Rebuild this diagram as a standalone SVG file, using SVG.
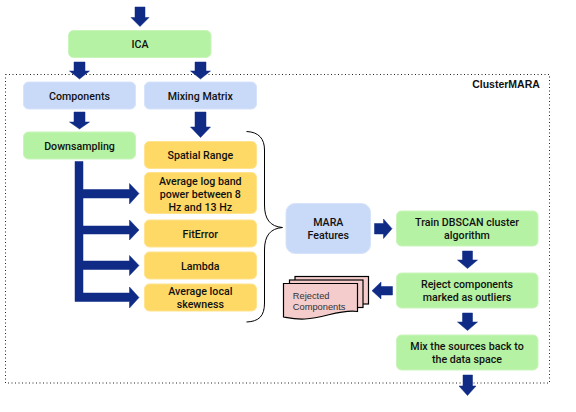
<svg xmlns="http://www.w3.org/2000/svg" width="576" height="412" viewBox="0 0 576 412">
<style>
.n{stroke-width:1;rx:5px;ry:5px}
.g{fill:#b6f2a3;stroke:#c9f5bb}
.b{fill:#c9daf8;stroke:#d6e3fa}
.y{fill:#ffd966;stroke:#ffe38e}
text{font-family:Roboto,"Liberation Sans",sans-serif;font-size:10.67px;font-weight:500;fill:#111;text-anchor:middle}
.a{fill:#0f2b85;stroke:#0f2b85;stroke-width:.5}
.d{fill:#f4cccc;stroke:#000;stroke-width:1.2}
.r{text-anchor:start;font-family:'Liberation Sans',sans-serif;font-weight:400;font-size:9.3px;fill:#333}
</style>
<rect width="576" height="412" fill="#fff"/>
<rect id="frame" x="5.5" y="74.5" width="544" height="308.5" fill="none" stroke="#222" stroke-width="1" stroke-dasharray="1 2.5"/>
<text x="506" y="87.5" style="font-family:'Liberation Sans',sans-serif;font-weight:700;font-size:10.5px">ClusterMARA</text>
<g id="connectors">
<polygon class="a" points="135,7 145,7 145,17.500 149,17.500 140,26.500 131,17.500 135,17.500"/>
<polygon class="a" points="74,62 85,62 85,71 89.500,71 79.500,79 69.500,71 74,71"/>
<polygon class="a" points="195,62 206,62 206,71 210.500,71 200.500,79 190.500,71 195,71"/>
<polygon class="a" points="74,112 85,112 85,122 89.500,122 79.500,129 69.500,122 74,122"/>
<polygon class="a" points="195,112 206,112 206,127 210.500,127 200.500,137.500 190.500,127 195,127"/>
<polygon class="a" points="75,161.500 83,161.500 83,189.500 129.500,189.500 129.500,183.500 139,193.500 129.500,204 129.500,198 83,198 83,226 129.500,226 129.500,220 139,230 129.500,240 129.500,234 83,234 83,261 129.500,261 129.500,255.500 139,265.500 129.500,275.500 129.500,269.500 83,269.500 83,293 129.500,293 129.500,287 139,297.500 129.500,308 129.500,301.500 75,301.500"/>
<polygon class="a" points="374.500,223.500 383.500,223.500 383.500,219 392,228.700 383.500,238.500 383.500,234 374.500,234"/>
<polygon class="a" points="462.500,251 472.500,251 472.500,260 477.500,260 467.500,268.500 457.500,260 462.500,260"/>
<polygon class="a" points="392.500,286.500 381,286.500 381,282 372,290.700 381,299 381,295 392.500,295"/>
<polygon class="a" points="462.500,313 472.500,313 472.500,322 477.500,322 467.500,330.500 457.500,322 462.500,322"/>
<polygon class="a" points="463,375 472.500,375 472.500,386 476,386 467.500,395.500 459,386 463,386"/>
<path id="brace" d="M246.500 131.500C259 132 264.500 139 264.500 150V205C264.500 219 270 226.500 282.500 227.500C270 228.500 264.500 236 264.500 250V303C264.500 316 259 321.500 246.500 322" fill="none" stroke="#000" stroke-width="1"/>
</g>
<g id="ica"><rect class="n g" x="68.500" y="30.500" width="142.500" height="27"/><text x="140" y="48">ICA</text></g>
<g id="components"><rect class="n b" x="23.500" y="82" width="112" height="27"/><text x="79.500" y="99.500">Components</text></g>
<g id="mixing-matrix"><rect class="n b" x="144.500" y="82" width="112" height="27"/><text x="200.300" y="99.500">Mixing Matrix</text></g>
<g id="downsampling"><rect class="n g" x="23.500" y="132" width="112" height="27"/><text x="79.500" y="149.500">Downsampling</text></g>
<g id="spatial-range"><rect class="n y" x="144.500" y="141.500" width="112" height="27"/><text x="200.300" y="159">Spatial Range</text></g>
<g id="avg-log"><rect class="n y" x="144.500" y="172.500" width="112" height="41"/><text x="200.300" y="184.500">Average log band</text><text x="200.300" y="197.500">power between 8</text><text x="200.300" y="210.500">Hz and 13 Hz</text></g>
<g id="fit-error"><rect class="n y" x="144.500" y="220" width="112" height="27"/><text x="200.300" y="237.500">FitError</text></g>
<g id="lambda"><rect class="n y" x="144.500" y="252" width="112" height="27"/><text x="200.300" y="269.500">Lambda</text></g>
<g id="avg-skew"><rect class="n y" x="144.500" y="284" width="112" height="27"/><text x="200.300" y="295">Average local</text><text x="200.300" y="308">skewness</text></g>
<g id="mara"><rect class="n b" x="286" y="203.500" width="84.500" height="50" style="rx:9px;ry:9px"/><text x="328.300" y="226">MARA</text><text x="328.300" y="239">Features</text></g>
<g id="train"><rect class="n g" x="396.500" y="211" width="141.500" height="35"/><text x="467" y="226">Train DBSCAN cluster</text><text x="467" y="239">algorithm</text></g>
<g id="reject"><rect class="n g" x="396.500" y="273" width="141.500" height="35"/><text x="467" y="288">Reject components</text><text x="467" y="301">marked as outliers</text></g>
<g id="mix"><rect class="n g" x="396.500" y="335" width="141.500" height="35"/><text x="467" y="350">Mix the sources back to</text><text x="467" y="363">the data space</text></g>
<g id="rejected">
<rect class="d" x="295" y="276.500" width="73.500" height="27.500"/>
<rect class="d" x="289.500" y="280" width="73.500" height="27.500"/>
<path class="d" d="M283.500 283.500H357.500V311.500C340 309 325 318 305 319C295 319.500 289 318 283.500 317Z"/>
<text class="r" x="292.800" y="298.500">Rejected</text>
<text class="r" x="292.800" y="309.500">Components</text>
</g>
</svg>
